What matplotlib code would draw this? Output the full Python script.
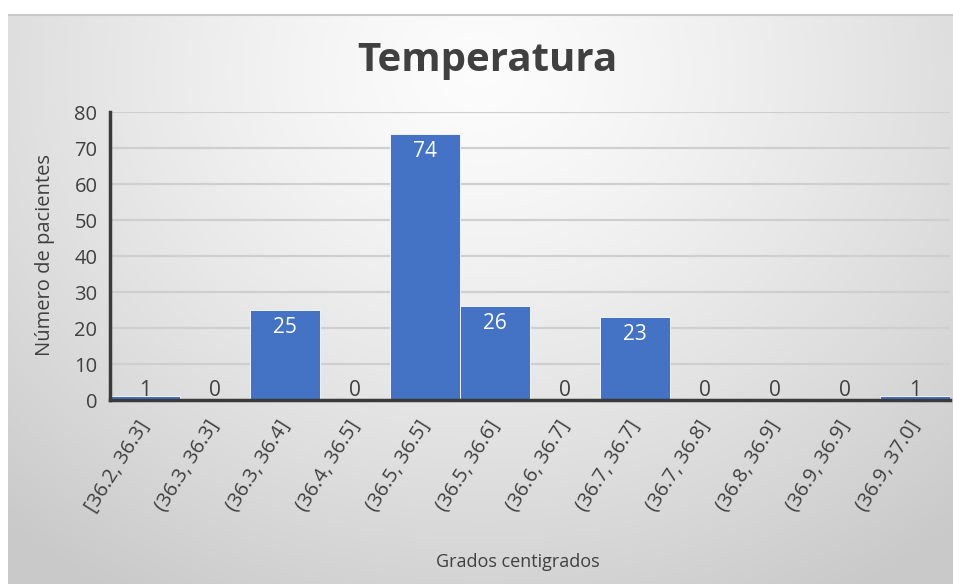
import numpy as np
import matplotlib
matplotlib.use('Agg')
import matplotlib.pyplot as plt
from matplotlib.transforms import ScaledTranslation

# data
intervals = ['[36.2, 36.3]', '(36.3, 36.3]', '(36.3, 36.4]', '(36.4, 36.5]',
             '(36.5, 36.5]', '(36.5, 36.6]', '(36.6, 36.7]', '(36.7, 36.7]',
             '(36.7, 36.8]', '(36.8, 36.9]', '(36.9, 36.9]', '(36.9, 37.0]']
patients = [1, 0, 25, 0, 74, 26, 0, 23, 0, 0, 0, 1]
y_ticks = [0, 10, 20, 30, 40, 50, 60, 70, 80]

TITLE = 'Temperatura'
XLABEL = 'Grados centigrados'
YLABEL = 'Número de pacientes'

BAR_COLOR = '#4472C4'
TEXT_COLOR = '#404040'

plt.rcParams['font.family'] = ['Open Sans', 'DejaVu Sans']

W, H = 954, 584
fig = plt.figure(figsize=(W / 100, H / 100), dpi=100)
fig.patch.set_facecolor('white')

# radial grey gradient background of the chart area
bg = fig.add_axes([8 / W, 0, (W - 8) / W, (H - 14) / H], zorder=0)
gx, gy = np.meshgrid(np.linspace(0, 1, 400), np.linspace(0, 1, 250))
cx, cy = 0.5, 0.1
r = np.sqrt((gx - cx) ** 2 + ((gy - cy) * 0.7) ** 2)
r = np.clip(r / 0.75, 0, 1)
shade = 0.99 - 0.2 * r ** 1.3
bg.imshow(np.dstack([shade] * 3), aspect='auto', extent=[0, 1, 1, 0],
          interpolation='bilinear')
bg.set_xlim(0, 1)
bg.set_ylim(1, 0)
bg.axis('off')
bg.axhline(0.001, color='#c8c8c8', lw=1.5)

left, right = 110, 950
y0, y80 = 400, 112
ax = fig.add_axes([left / W, 1 - y0 / H, (right - left) / W, (y0 - y80) / H], zorder=1)
ax.patch.set_alpha(0)

x = np.arange(len(intervals))
ax.bar(x, patients, width=1.0, color=BAR_COLOR, edgecolor='white', linewidth=0.6, zorder=3)

for xi, v in zip(x, patients):
    if v >= 5:
        ax.annotate(str(v), (xi, v), xytext=(0, -5), textcoords='offset points',
                    ha='center', va='top', color='white', fontsize=15, zorder=4)
    else:
        ax.annotate(str(v), (xi, 0), xytext=(0, -0.5), textcoords='offset points',
                    ha='center', va='bottom', color=TEXT_COLOR, fontsize=15, zorder=4)

ax.set_xlim(-0.5, len(intervals) - 0.5)
ax.set_ylim(0, 80)
ax.set_yticks(y_ticks)
ax.set_yticklabels([str(t) for t in y_ticks], fontsize=14.5, color=TEXT_COLOR)
ax.set_xticks(x)
ax.set_xticklabels(intervals, rotation=58, ha='right', va='center',
                   rotation_mode='anchor', fontsize=14.5, color=TEXT_COLOR)
shift = ScaledTranslation(6 / 100, 0, fig.dpi_scale_trans)
for lbl in ax.get_xticklabels():
    lbl.set_transform(lbl.get_transform() + shift)
ax.tick_params(axis='both', length=0)
ax.tick_params(axis='y', pad=9)
ax.tick_params(axis='x', pad=16)

ax.grid(axis='y', color='#cfcfcf', lw=1.6, zorder=0)
ax.set_axisbelow(True)
for s in ['top', 'right']:
    ax.spines[s].set_visible(False)
ax.spines['left'].set_color('#3a3a3a')
ax.spines['left'].set_linewidth(2.5)
ax.spines['bottom'].set_color('#3a3a3a')
ax.spines['bottom'].set_linewidth(2.5)
ax.spines['left'].set_zorder(5)
ax.spines['bottom'].set_zorder(5)

fig.text(487 / W, 1 - 60 / H, TITLE, ha='center', va='center', fontsize=29,
         fontweight='bold', color=TEXT_COLOR)
fig.text(518 / W, 1 - 562 / H, XLABEL, ha='center', va='center', fontsize=13,
         color=TEXT_COLOR)
fig.text(45 / W, 1 - 255 / H, YLABEL, ha='center', va='center', fontsize=14.5,
         rotation=90, color=TEXT_COLOR)

fig.savefig('out.png', dpi=100, facecolor=fig.get_facecolor())
